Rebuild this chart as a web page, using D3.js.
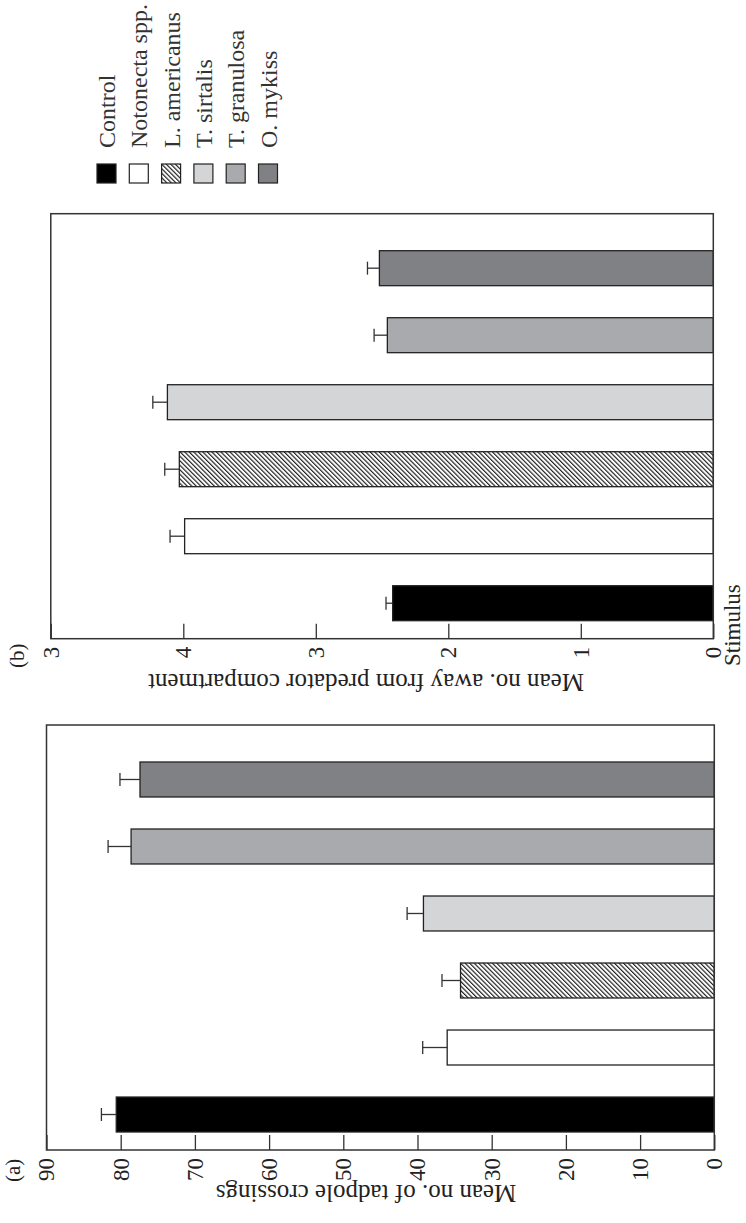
<!DOCTYPE html>
<html>
<head>
<meta charset="utf-8">
<script src="https://cdn.jsdelivr.net/npm/d3@7"></script>
<style>
  body { margin: 0; background: #fff; }
  text { font-family: "Liberation Serif", "Times New Roman", serif; }
</style>
</head>
<body>
<div id="chart"></div>
<script>
// categories (stimulus) shared by both panels
var categories = ["Control", "Notonecta spp.", "L. americanus", "T. sirtalis", "T. granulosa", "O. mykiss"];

// panel (a): mean no. of tadpole crossings, with error bar length
var crossingsMean = [80.6, 36.0, 34.2, 39.2, 78.6, 77.4];
var crossingsErr = [2.0, 3.3, 2.5, 2.2, 3.1, 2.7];

// panel (b): mean no. away from predator compartment
var awayMean = [2.42, 3.99, 4.03, 4.12, 2.46, 2.52];
var awayErr = [0.05, 0.11, 0.11, 0.11, 0.10, 0.09];

// tick values and their labels (the last label of (b) is printed "3" in the original)
var ticksA = [0, 10, 20, 30, 40, 50, 60, 70, 80, 90];
var tickLabelsA = ["0", "10", "20", "30", "40", "50", "60", "70", "80", "90"];
var ticksB = [0, 1, 2, 3, 4, 5];
var tickLabelsB = ["0", "1", "2", "3", "4", "3"];

var fills = ["#000000", "#ffffff", "url(#hatch)", "#d4d5d7", "#a9aaad", "#808184"];

// the figure is drawn upright (1223 x 746) and then turned a quarter turn to the left
var W = 746, H = 1223;

var svg = d3.select("#chart")
    .append("svg")
    .attr("width", W)
    .attr("height", H);

svg.append("rect").attr("width", W).attr("height", H).attr("fill", "#fff");

// hatch pattern for L. americanus
var pat = svg.append("defs").append("pattern")
    .attr("id", "hatch")
    .attr("patternUnits", "userSpaceOnUse")
    .attr("width", 3.2)
    .attr("height", 10)
    .attr("patternTransform", "rotate(45)");
pat.append("rect").attr("width", 3.2).attr("height", 10).attr("fill", "#fff");
pat.append("line")
    .attr("x1", 0.6).attr("y1", 0).attr("x2", 0.6).attr("y2", 10)
    .attr("stroke", "#111").attr("stroke-width", 1.1);

var g = svg.append("g")
    .attr("transform", "translate(0," + H + ") rotate(-90)");

function drawPanel(cfg) {
    var frameW = 425;

    var x = d3.scaleBand()
        .domain(categories)
        .range([cfg.left + 18, cfg.left + 388])
        .paddingInner(0.478)
        .paddingOuter(0);

    var y = d3.scaleLinear()
        .domain(cfg.domain)
        .range(cfg.range);

    var p = g.append("g");

    // y axis with inward ticks
    var axis = p.append("g")
        .attr("transform", "translate(" + cfg.left + ",0)")
        .call(d3.axisLeft(y)
            .tickValues(cfg.ticks)
            .tickFormat(function (d, i) { return cfg.labels[i]; })
            .tickSizeInner(-15)
            .tickSizeOuter(0)
            .tickPadding(8));
    axis.select(".domain").remove();
    axis.selectAll(".tick line").attr("stroke", "#333").attr("stroke-width", 1.3);
    axis.selectAll(".tick text")
        .attr("fill", "#222")
        .style("font-size", "23px")
        .style("font-family", "'Liberation Serif', serif");

    // bars
    p.selectAll("rect.bar")
        .data(cfg.means)
        .enter().append("rect")
        .attr("class", "bar")
        .attr("x", function (d, i) { return x(categories[i]); })
        .attr("y", function (d) { return y(d); })
        .attr("width", x.bandwidth())
        .attr("height", function (d) { return y(0) - y(d); })
        .attr("fill", function (d, i) { return fills[i]; })
        .attr("stroke", "#222")
        .attr("stroke-width", 1.3);

    // error bars (upper side only)
    var eb = p.selectAll("g.err")
        .data(cfg.means)
        .enter().append("g")
        .attr("class", "err")
        .attr("stroke", "#333")
        .attr("stroke-width", 1.3);
    eb.append("line")
        .attr("x1", function (d, i) { return x(categories[i]) + x.bandwidth() / 2; })
        .attr("x2", function (d, i) { return x(categories[i]) + x.bandwidth() / 2; })
        .attr("y1", function (d) { return y(d); })
        .attr("y2", function (d, i) { return y(d + cfg.errs[i]); });
    eb.append("line")
        .attr("x1", function (d, i) { return x(categories[i]) + x.bandwidth() / 2 - 6.5; })
        .attr("x2", function (d, i) { return x(categories[i]) + x.bandwidth() / 2 + 6.5; })
        .attr("y1", function (d, i) { return y(d + cfg.errs[i]); })
        .attr("y2", function (d, i) { return y(d + cfg.errs[i]); });

    // frame
    p.append("rect")
        .attr("x", cfg.left)
        .attr("y", y(cfg.domain[1]))
        .attr("width", frameW)
        .attr("height", y(0) - y(cfg.domain[1]))
        .attr("fill", "none")
        .attr("stroke", "#333")
        .attr("stroke-width", 1.5);

    // y axis title
    p.append("text")
        .attr("transform", "translate(" + (cfg.left - 35) + ",366) rotate(-90)")
        .attr("text-anchor", "middle")
        .attr("fill", "#222")
        .style("font-size", "25px")
        .text(cfg.title);

    // panel letter
    p.append("text")
        .attr("x", cfg.letterX)
        .attr("y", cfg.letterY)
        .attr("fill", "#222")
        .style("font-size", "21px")
        .text(cfg.letter);
}

drawPanel({
    left: 73, domain: [0, 90], range: [714.3, 46.5],
    ticks: ticksA, labels: tickLabelsA,
    means: crossingsMean, errs: crossingsErr,
    title: "Mean no. of tadpole crossings",
    letter: "(a)", letterX: 41, letterY: 20
});

drawPanel({
    left: 584.3, domain: [0, 5], range: [713.3, 50.8],
    ticks: ticksB, labels: tickLabelsB,
    means: awayMean, errs: awayErr,
    title: "Mean no. away from predator compartment",
    letter: "(b)", letterX: 555, letterY: 24
});

// x axis title
g.append("text")
    .attr("x", 557)
    .attr("y", 740)
    .attr("fill", "#222")
    .style("font-size", "23px")
    .text("Stimulus");

// legend
var legend = g.selectAll(".legend")
    .data(categories)
    .enter().append("g")
    .attr("class", "legend")
    .attr("transform", function (d, i) { return "translate(1040," + (97 + i * 32.3) + ")"; });

legend.append("rect")
    .attr("width", 19).attr("height", 19)
    .attr("fill", function (d, i) { return fills[i]; })
    .attr("stroke", "#222")
    .attr("stroke-width", 1.2);

legend.append("text")
    .attr("x", 35)
    .attr("y", 18)
    .attr("fill", "#333")
    .style("font-size", "24px")
    .text(function (d) { return d; });
</script>
</body>
</html>
